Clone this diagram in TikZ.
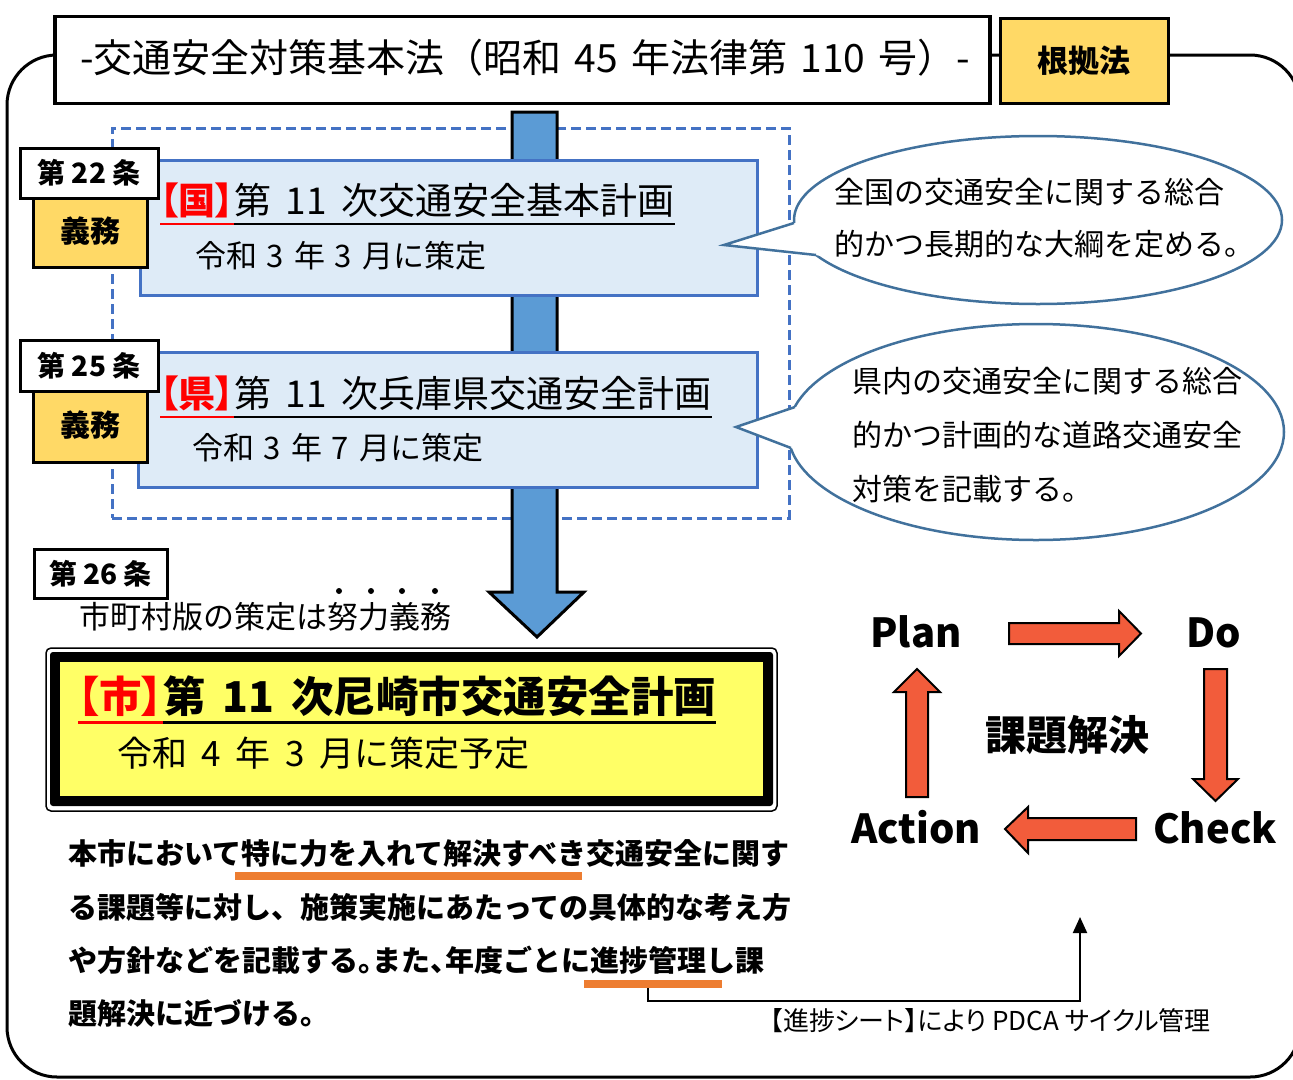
\documentclass[tikz,border=0pt]{standalone}
\usepackage{fontspec}
\setmainfont{Noto Sans CJK JP}
\newfontfamily\pfont[RawFeature=+palt]{Noto Sans CJK JP}
\usetikzlibrary{arrows.meta,calc,shapes.geometric}
\definecolor{dblue}{HTML}{4472C4}
\definecolor{lblue}{HTML}{DEEBF7}
\definecolor{ablue}{HTML}{5B9BD5}
\definecolor{gold}{HTML}{FFD966}
\definecolor{lyellow}{HTML}{FFFF66}
\definecolor{bline}{HTML}{41719C}
\definecolor{pdca}{HTML}{F25C3B}
\definecolor{orangeu}{HTML}{ED7D31}
\definecolor{redt}{HTML}{FF0000}
\newcommand{\fs}[1]{\fontsize{#1}{#1}\selectfont}
\newcommand{\wsp}[1]{\hspace{#1em}}
\tikzset{
  art/.style={draw,line width=3pt,fill=white,font={\fs{28}\bfseries}},
  duty/.style={draw,line width=3pt,fill=gold,font={\fs{30}\bfseries}},
  planbox/.style={draw=dblue,fill=lblue,line width=3pt},
  bub/.style={ellipse,draw=bline,fill=white,line width=2.5pt},
  bubline/.style={draw=bline,line width=2.5pt,line join=miter},
  bubtxt/.style={anchor=west,font={\fs{30}}},
  body/.style={anchor=west,font={\fs{29}\bfseries}},
  pd/.style={anchor=base,font={\fs{40}\bfseries}},
  blk/.style={draw,line width=2pt,fill=pdca,line join=miter},
  uline/.style={orangeu,line width=8pt}
}
\begin{document}
\begin{tikzpicture}[x=1pt,y=-1pt,every node/.style={inner sep=0pt,outer sep=0pt}]
\useasboundingbox (0,0) rectangle (1293,1079);
% outer frame
\draw[line width=3pt,rounded corners=50pt] (7,55) rectangle (1300,1077);
% title
\node[draw,line width=3.5pt,fill=white,minimum width=935pt,minimum height=87pt] (lawbox) at (522.5,60) {};
\node[anchor=west,font={\fs{39}}] (lawtxt) at (80,58) {-交通安全対策基本法（昭和\wsp{.34}45\wsp{.34}年法律第\wsp{.34}110\wsp{.34}号）-};
\node[draw,line width=3pt,fill=gold,minimum width=168pt,minimum height=85pt,font={\fs{31}\bfseries}] (konkyo) at (1084,60.5) {根拠法};
% dashed group
\node[draw=dblue,line width=3pt,dash pattern=on 10pt off 5pt,minimum width=677pt,minimum height=390pt] (group) at (450.5,323) {};
% blue arrow
\draw[line width=3pt,fill=ablue,line join=miter] (512,112) -- (557,112) -- (557,592) -- (584,592) -- (537,637) -- (489,592) -- (512,592) -- cycle;
% plan boxes
\node[planbox,minimum width=617pt,minimum height=135pt] (kuni) at (448.5,227.5) {};
\node[planbox,minimum width=619pt,minimum height=135pt] (ken) at (447.5,419.5) {};
% kuni texts
\node[anchor=west,font={\pfont\fs{37}\bfseries},text=redt] (kuniA) at (160,200) {【国】};
\node[anchor=west,font={\pfont\fs{37}}] (kuniB) at (kuniA.east) {第\wsp{.4}11\wsp{.4}次交通安全基本計画};
\coordinate (ku) at ($(kuniB.south)+(0,7)$);
\draw[redt,line width=2pt] (kuniA.west |- ku) -- (kuniA.east |- ku);
\draw[line width=2pt] (kuniA.east |- ku) -- (kuniB.east |- ku);
\node[anchor=west,font={\fs{31}}] (kuniC) at (195,256) {令和\wsp{.32}3\wsp{.32}年\wsp{.32}3\wsp{.32}月に策定};
% ken texts
\node[anchor=west,font={\pfont\fs{37}\bfseries},text=redt] (kenA) at (160,393) {【県】};
\node[anchor=west,font={\pfont\fs{37}}] (kenB) at (kenA.east) {第\wsp{.4}11\wsp{.4}次兵庫県交通安全計画};
\coordinate (ke) at ($(kenB.south)+(0,7)$);
\draw[redt,line width=2pt] (kenA.west |- ke) -- (kenA.east |- ke);
\draw[line width=2pt] (kenA.east |- ke) -- (kenB.east |- ke);
\node[anchor=west,font={\fs{31}}] (kenC) at (192,448) {令和\wsp{.32}3\wsp{.32}年\wsp{.32}7\wsp{.32}月に策定};
% article labels
\node[duty,minimum width=114pt,minimum height=69pt] (gimu1) at (90,232.5) {\raisebox{5pt}{義務}};
\node[art,minimum width=138pt,minimum height=50pt] (a22) at (89,173) {第 22 条};
\node[duty,minimum width=114pt,minimum height=71pt] (gimu2) at (90,426.5) {\raisebox{5pt}{義務}};
\node[art,minimum width=138pt,minimum height=51pt] (a25) at (89,365.5) {第 25 条};
\node[art,minimum width=133pt,minimum height=49pt] (a26) at (100.5,573.5) {第 26 条};
\node[anchor=west,font={\fs{31}}] (effort) at (79,617) {市町村版の策定は努力義務};
\fill (339,591) circle[radius=3pt] (371,591) circle[radius=3pt] (402,591) circle[radius=3pt] (435,591) circle[radius=3pt];
% bubble 1
\node[bub,minimum width=488pt,minimum height=168pt] (bub1) at (1038,220) {};
\fill[white] (724,245) -- (794,223) -- (830,223) -- (830,258) -- (816,255) -- cycle;
\draw[bubline] (794,223) -- (724,245) -- (816,255);
\node[bubtxt] (b1l1) at (834,192) {全国の交通安全に関する総合};
\node[bubtxt] (b1l2) at (834,244) {的かつ長期的な大綱を定める。};
% bubble 2
\node[bub,minimum width=496pt,minimum height=216pt] (bub2) at (1036,432) {};
\fill[white] (736,427) -- (795,407) -- (830,407) -- (830,448) -- (791,448) -- cycle;
\draw[bubline] (795,407) -- (736,427) -- (791,448);
\node[bubtxt] (b2l1) at (852,381) {県内の交通安全に関する総合};
\node[bubtxt] (b2l2) at (852,435) {的かつ計画的な道路交通安全};
\node[bubtxt] (b2l3) at (852,489) {対策を記載する。};
% city box
\node[draw,line width=1.5pt,fill=white,rounded corners=5pt,minimum width=731pt,minimum height=163pt] (shiOut) at (411.5,729.5) {};
\node[fill=black,rounded corners=3pt,minimum width=723pt,minimum height=154pt] (shiMid) at (411.5,729) {};
\node[fill=lyellow,minimum width=703pt,minimum height=134pt] (shiIn) at (411.5,729) {};
\node[anchor=west,font={\pfont\fs{42.5}\bfseries},text=redt] (shiA) at (78,696) {【市】};
\node[anchor=west,font={\pfont\fs{42.5}\bfseries}] (shiB) at (shiA.east) {第\wsp{.4}11\wsp{.4}次尼崎市交通安全計画};
\coordinate (su) at ($(shiB.south)+(0,6)$);
\draw[redt,line width=3pt] (shiA.west |- su) -- (shiA.east |- su);
\draw[line width=3pt] (shiA.east |- su) -- (shiB.east |- su);
\node[anchor=west,font={\fs{35}}] (shiC) at (117,753) {令和\wsp{.42}4\wsp{.42}年\wsp{.42}3\wsp{.42}月に策定予定};
% body text
\node[body] (t1) at (68,853) {本市において特に力を入れて解決すべき交通安全に関す};
\node[body] (t2) at (68,907) {る課題等に対し、施策実施にあたっての具体的な考え方};
\node[body] (t3) at (68,960) {や方針などを記載する。\kern-.5emまた、\kern-.5em年度ごとに進捗管理し課};
\node[body] (t4) at (68,1013) {題解決に近づける。};
\draw[uline] (235,876) -- (582,876);
\draw[uline] (584,984) -- (722,984);
% connector
\coordinate (cS) at (648,988);
\coordinate (cK) at (648,1001);
\coordinate (cE) at (1080,917);
\draw[line width=2pt,-{Triangle[length=16pt,width=14pt]}] (cS) -- (cK) -| (cE);
\node[anchor=west,font={\pfont\fs{26}}] (sheet) at (770,1021) {【進捗シート】により PDCA サイクル管理};
% PDCA
\node[pd] (plan) at (916,647) {Plan};
\node[pd] (do) at (1214,647) {Do};
\node[pd] (act) at (916,843) {Action};
\node[pd] (chk) at (1215,843) {Check};
\node[font={\fs{41}\bfseries}] (kadai) at (1067,735) {課題解決};
\draw[blk] (1009,623) -- (1119,623) -- (1119,611) -- (1141,633.5) -- (1119,656) -- (1119,644) -- (1009,644) -- cycle;
\draw[blk] (1204,669) -- (1227,669) -- (1227,779) -- (1238,779) -- (1215.5,801) -- (1193,779) -- (1204,779) -- cycle;
\draw[blk] (1136,818) -- (1028,818) -- (1028,807) -- (1005,829) -- (1028,853) -- (1028,840) -- (1136,840) -- cycle;
\draw[blk] (906,797) -- (906,692) -- (894,692) -- (917,669) -- (940,692) -- (928,692) -- (928,797) -- cycle;
\end{tikzpicture}
\end{document}
